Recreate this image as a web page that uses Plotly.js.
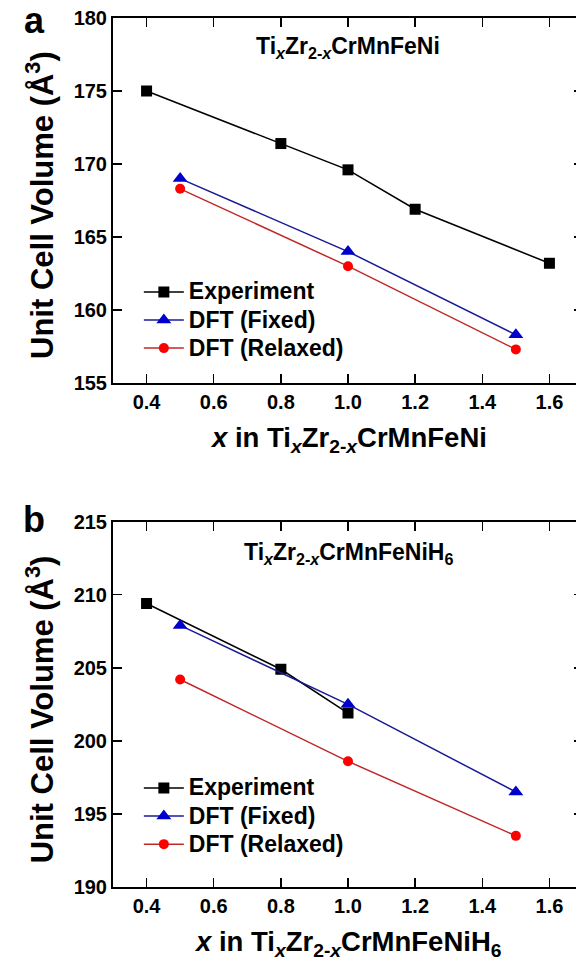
<!DOCTYPE html>
<html>
<head>
<meta charset="utf-8">
<script src="https://cdn.plot.ly/plotly-3.0.1.min.js"></script>
<style>
html,body{margin:0;padding:0;overflow:hidden;background:#fff;}
#chart{width:600px;height:964px;}
</style>
</head>
<body>
<div id="chart"></div>
<script>
// Panel a: TixZr2-xCrMnFeNi
const expX_a = [0.4, 0.8, 1.0, 1.2, 1.6];
const expY_a = [175.0, 171.4, 169.6, 166.9, 163.2];
const dftX_a = [0.5, 1.0, 1.5];
const fixedY_a = [169.0, 164.0, 158.3];
const relaxedY_a = [168.3, 163.0, 157.3];

// Panel b: TixZr2-xCrMnFeNiH6
const expX_b = [0.4, 0.8, 1.0];
const expY_b = [209.4, 204.9, 201.9];
const dftX_b = [0.5, 1.0, 1.5];
const fixedY_b = [207.9, 202.5, 196.5];
const relaxedY_b = [204.2, 198.6, 193.5];

const seriesNames = ['Experiment', 'DFT (Fixed)', 'DFT (Relaxed)'];
const xTicks = [0.4, 0.6, 0.8, 1.0, 1.2, 1.4, 1.6];
const xTickText = ['0.4', '0.6', '0.8', '1.0', '1.2', '1.4', '1.6'];
const yTicks_a = [155, 160, 165, 170, 175, 180];
const yTicks_b = [190, 195, 200, 205, 210, 215];

const FONT = 'Arial, "Liberation Sans", sans-serif';

// legend label: larger glyphs than the legend row spacing implies
function legName(s) { return '<span style="font-size:23px">' + s + '</span>'; }

function expTrace(x, y, xa, ya, lg) {
  return {x: x, y: y, xaxis: xa, yaxis: ya, legend: lg, name: legName(seriesNames[0]), type: 'scatter', mode: 'lines+markers',
    line: {color: '#000000', width: 1.5}, marker: {symbol: 'square', size: 11, color: '#000000'}};
}
function fixedTrace(x, y, xa, ya, lg) {
  return {x: x, y: y, xaxis: xa, yaxis: ya, legend: lg, name: legName(seriesNames[1]), type: 'scatter', mode: 'lines+markers',
    line: {color: '#1a1a96', width: 1.5}, marker: {symbol: 'triangle-up', size: 13, color: '#0000cc'}};
}
function relaxedTrace(x, y, xa, ya, lg) {
  return {x: x, y: y, xaxis: xa, yaxis: ya, legend: lg, name: legName(seriesNames[2]), type: 'scatter', mode: 'lines+markers',
    line: {color: '#c02828', width: 1.5}, marker: {symbol: 'circle', size: 10, color: '#ff0000'}};
}

const traces = [
  expTrace(expX_a, expY_a, 'x', 'y', 'legend'),
  fixedTrace(dftX_a, fixedY_a, 'x', 'y', 'legend'),
  relaxedTrace(dftX_a, relaxedY_a, 'x', 'y', 'legend'),
  expTrace(expX_b, expY_b, 'x2', 'y2', 'legend2'),
  fixedTrace(dftX_b, fixedY_b, 'x2', 'y2', 'legend2'),
  relaxedTrace(dftX_b, relaxedY_b, 'x2', 'y2', 'legend2')
];

const tickFont = {family: FONT, size: 20, color: '#000', weight: 'bold'};
function xAxis(anchor) {
  return {anchor: anchor, range: [0.3, 1.7], tickvals: xTicks, ticktext: xTickText,
    ticks: 'inside', ticklen: 9, tickwidth: 1.5, tickcolor: '#000', mirror: 'ticks',
    showline: true, linewidth: 2, linecolor: '#000', showgrid: false, zeroline: false,
    tickfont: tickFont, fixedrange: true};
}
function yAxis(anchor, domain, range, vals) {
  return {anchor: anchor, domain: domain, range: range, tickvals: vals,
    ticks: 'inside', ticklen: 9, tickwidth: 1.5, tickcolor: '#000', mirror: 'ticks',
    showline: true, linewidth: 2, linecolor: '#000', showgrid: false, zeroline: false,
    tickfont: tickFont, fixedrange: true};
}

const legendFont = {family: FONT, size: 19.3, color: '#000', weight: 'bold'};
const layout = {
  width: 600, height: 964,
  margin: {l: 113, r: 17, t: 18, b: 77},
  paper_bgcolor: '#fff', plot_bgcolor: '#fff',
  font: {family: FONT, color: '#000'},
  xaxis: Object.assign(xAxis('y'), {domain: [0, 1]}),
  yaxis: yAxis('x', [0.58, 1], [155, 180], yTicks_a),
  xaxis2: Object.assign(xAxis('y2'), {domain: [0, 1]}),
  yaxis2: yAxis('x2', [0, 0.4204], [190, 215], yTicks_b),
  legend: {x: 0.055, y: 0.7067, xanchor: 'left', yanchor: 'top', bgcolor: 'rgba(0,0,0,0)',
    font: legendFont, tracegroupgap: 0, itemwidth: 40},
  legend2: {x: 0.055, y: 0.1359, xanchor: 'left', yanchor: 'top', bgcolor: 'rgba(0,0,0,0)',
    font: legendFont, tracegroupgap: 0, itemwidth: 40},
  showlegend: true,
  annotations: [
    {text: '<b>a</b>', xref: 'paper', yref: 'paper', x: -0.168, y: 0.997, xanchor: 'center', yanchor: 'middle',
      showarrow: false, font: {family: FONT, size: 36, color: '#000'}},
    {text: '<b>b</b>', xref: 'paper', yref: 'paper', x: -0.168, y: 0.4224, xanchor: 'center', yanchor: 'middle',
      showarrow: false, font: {family: FONT, size: 36, color: '#000'}},
    {text: '<b>Ti<sub><i>x</i></sub>Zr<sub>2-<i>x</i></sub>CrMnFeNi</b>', xref: 'x', yref: 'paper', x: 1.0, y: 0.9655,
      xanchor: 'center', yanchor: 'middle', showarrow: false, font: {family: FONT, size: 23, color: '#000'}},
    {text: '<b>Ti<sub><i>x</i></sub>Zr<sub>2-<i>x</i></sub>CrMnFeNiH<sub>6</sub></b>', xref: 'x2', yref: 'paper', x: 1.0, y: 0.3843,
      xanchor: 'center', yanchor: 'middle', showarrow: false, font: {family: FONT, size: 23, color: '#000'}},
    {text: '<b><i>x</i> in Ti<sub><i>x</i></sub>Zr<sub>2-<i>x</i></sub>CrMnFeNi</b>', xref: 'x', yref: 'paper', x: 1.0, y: 0.515,
      xanchor: 'center', yanchor: 'middle', showarrow: false, font: {family: FONT, size: 27.5, color: '#000'}},
    {text: '<b><i>x</i> in Ti<sub><i>x</i></sub>Zr<sub>2-<i>x</i></sub>CrMnFeNiH<sub>6</sub></b>', xref: 'x2', yref: 'paper', x: 1.0, y: -0.065,
      xanchor: 'center', yanchor: 'middle', showarrow: false, font: {family: FONT, size: 27.5, color: '#000'}},
    {text: '<b>Unit Cell Volume (Å<sup>3</sup>)</b>', xref: 'paper', yref: 'paper', x: -0.155, y: 0.785, textangle: -90,
      xanchor: 'center', yanchor: 'middle', showarrow: false, font: {family: FONT, size: 31, color: '#000'}},
    {text: '<b>Unit Cell Volume (Å<sup>3</sup>)</b>', xref: 'paper', yref: 'paper', x: -0.155, y: 0.2046, textangle: -90,
      xanchor: 'center', yanchor: 'middle', showarrow: false, font: {family: FONT, size: 31, color: '#000'}}
  ]
};

Plotly.newPlot('chart', traces, layout, {displayModeBar: false, staticPlot: true});
</script>
</body>
</html>
